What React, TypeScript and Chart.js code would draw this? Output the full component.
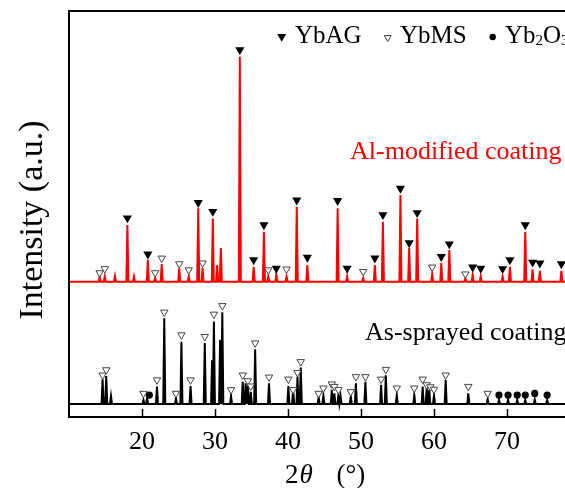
import React, { useEffect, useRef } from 'react';
import { Chart, registerables } from 'chart.js';
Chart.register(...registerables);

const X_MIN = 10;
const X_MAX = 80;
const Y_MIN = 0;
const Y_MAX = 100;
const xTickValues = [20, 30, 40, 50, 60, 70];

// Al-modified coating (red) pattern
const redBase = 33.3;
const redPeakX = [14.2, 14.9, 16.3, 18.0, 18.9, 20.8, 21.8, 22.7, 25.1, 26.4, 27.7, 28.3, 29.7, 30.3, 30.8, 33.4, 35.3, 36.7, 37.3, 38.4, 39.8, 41.2, 42.65, 46.8, 48.1, 50.3, 51.9, 53.0, 55.4, 56.6, 57.7, 59.75, 61.0, 62.1, 64.3, 65.3, 66.4, 69.4, 70.4, 72.5, 73.5, 74.5, 77.45];
const redPeakTop = [34.6, 34.6, 34.7, 47.3, 34.6, 38.7, 34.2, 37.7, 36.6, 34.7, 51.4, 36.7, 48.9, 37.4, 41.6, 88.7, 37.0, 45.6, 34.6, 35.2, 34.6, 51.8, 37.4, 51.4, 34.6, 34.2, 37.4, 48.1, 54.7, 41.6, 48.9, 35.2, 37.9, 41.1, 34.2, 35.0, 34.7, 34.6, 37.0, 45.6, 36.4, 36.0, 36.0];

// As-sprayed coating (black) pattern
const blackBase = 3.2;
const blackPeakX = [14.6, 15.1, 15.75, 20.2, 20.7, 22.05, 23.05, 24.65, 25.4, 26.65, 28.6, 29.6, 29.85, 30.7, 31.0, 32.2, 33.8, 34.2, 34.5, 34.9, 35.5, 37.4, 40.05, 40.7, 41.3, 41.75, 44.2, 44.85, 46.0, 46.35, 46.9, 47.2, 48.6, 49.3, 50.6, 52.75, 53.4, 54.9, 57.3, 58.45, 59.0, 59.35, 60.0, 61.6, 64.7, 67.35, 68.9, 70.15, 71.4, 72.5, 73.8, 75.5];
const blackPeakTop = [9.3, 10.1, 5.2, 4.2, 4.7, 7.5, 24.3, 4.6, 18.5, 7.6, 18.2, 14.0, 23.5, 19.0, 25.8, 5.2, 8.7, 8.3, 7.6, 6.2, 16.7, 8.3, 7.6, 6.7, 9.9, 12.2, 4.9, 5.4, 6.7, 5.8, 5.4, 5.2, 5.0, 8.3, 8.7, 7.9, 10.3, 5.4, 5.4, 7.5, 7.1, 6.7, 5.4, 9.1, 5.8, 4.4, 4.2, 4.2, 4.2, 4.2, 4.3, 4.2];

// Phase markers
const ybagX = [18.0, 20.8, 27.7, 29.7, 33.4, 35.3, 36.7, 38.4, 41.2, 42.65, 46.8, 48.1, 51.9, 53.0, 55.4, 56.6, 57.7, 61.0, 62.1, 65.3, 66.4, 69.4, 70.4, 72.5, 73.5, 74.5, 77.45];
const ybagY = [49.0, 40.1, 52.8, 50.6, 90.4, 38.7, 47.3, 36.6, 53.4, 39.3, 53.3, 36.6, 39.1, 49.8, 56.3, 42.9, 50.3, 39.5, 42.6, 36.9, 36.6, 36.5, 38.7, 47.3, 38.1, 37.9, 37.7];

const ybmsRedX = [14.2, 14.9, 21.8, 22.7, 25.1, 26.4, 28.3, 37.3, 39.8, 50.3, 59.75, 64.3];
const ybmsRedY = [35.5, 36.5, 35.5, 39.1, 37.7, 36.2, 37.9, 36.2, 36.4, 35.8, 36.9, 35.2];

const ybmsBlackX = [14.6, 15.1, 20.2, 22.05, 23.05, 24.65, 25.4, 26.65, 28.6, 29.85, 31.0, 32.2, 33.8, 34.5, 34.9, 35.5, 37.4, 40.05, 40.7, 41.3, 41.75, 44.2, 44.85, 46.0, 46.35, 46.9, 48.6, 49.3, 50.6, 52.75, 53.4, 54.9, 57.3, 58.45, 59.0, 59.5, 60.0, 61.6, 64.7, 67.35];
const ybmsBlackY = [10.3, 11.6, 5.8, 9.1, 25.8, 5.8, 20.2, 9.1, 19.8, 25.3, 27.4, 6.7, 10.3, 8.9, 7.6, 18.2, 9.8, 9.3, 6.7, 10.9, 13.6, 5.8, 7.1, 8.1, 7.5, 6.7, 6.2, 9.9, 9.9, 9.3, 11.7, 7.1, 7.1, 9.3, 7.9, 7.4, 6.8, 10.3, 7.5, 5.8];

const yb2o3X = [21.0, 68.9, 70.15, 71.4, 72.5, 73.8, 75.5];
const yb2o3Y = [5.4, 5.4, 5.4, 5.4, 5.4, 5.8, 5.4];

const legendLabels = ['YbAG', 'YbMS', 'Yb', '2', 'O', '3'];
const redLabel = 'Al-modified coating';
const blackLabel = 'As-sprayed coating';
const yTitle = 'Intensity (a.u.)';

const SERIF = '"Liberation Serif", "Times New Roman", serif';

function buildTrace(base: number, xs: number[], tops: number[], hw = 0.14) {
  const pts: { x: number; y: number }[] = [{ x: X_MIN, y: base }];
  xs.forEach((x, i) => {
    pts.push({ x: x - hw, y: base }, { x, y: tops[i] }, { x: x + hw, y: base });
  });
  pts.push({ x: X_MAX, y: base });
  return pts;
}

function zip(xs: number[], ys: number[]) {
  return xs.map((x, i) => ({ x, y: ys[i] }));
}

function tri(ctx: CanvasRenderingContext2D, x: number, y: number, r: number, filled: boolean) {
  ctx.beginPath();
  ctx.moveTo(x - r * 0.866, y - r * 0.5);
  ctx.lineTo(x + r * 0.866, y - r * 0.5);
  ctx.lineTo(x, y + r);
  ctx.closePath();
  if (filled) {
    ctx.fillStyle = '#000';
    ctx.fill();
  } else {
    ctx.fillStyle = '#fff';
    ctx.fill();
    ctx.strokeStyle = '#444';
    ctx.lineWidth = 1;
    ctx.stroke();
  }
}

const decorPlugin = {
  id: 'decor',
  afterDraw(chart: any) {
    const { ctx, chartArea, scales } = chart;
    const xs = scales.x;
    ctx.save();
    // frame
    ctx.strokeStyle = '#000';
    ctx.lineWidth = 2;
    ctx.strokeRect(chartArea.left, chartArea.top, chartArea.right - chartArea.left, chartArea.bottom - chartArea.top);
    // inward ticks
    ctx.lineWidth = 1.5;
    xTickValues.forEach((v) => {
      const px = Math.round(xs.getPixelForValue(v)) + 0.5;
      ctx.beginPath();
      ctx.moveTo(px, chartArea.bottom);
      ctx.lineTo(px, chartArea.bottom - 8);
      ctx.stroke();
    });

    // legend
    ctx.textBaseline = 'alphabetic';
    ctx.textAlign = 'left';
    ctx.font = `25px ${SERIF}`;
    tri(ctx, 281.7, 36.5, 5.2, true);
    ctx.fillStyle = '#000';
    ctx.fillText(legendLabels[0], 295, 43.3);
    tri(ctx, 387.7, 37.5, 4, false);
    ctx.fillStyle = '#000';
    ctx.font = `25px ${SERIF}`;
    ctx.fillText(legendLabels[1], 400, 43.3);
    ctx.beginPath();
    ctx.arc(492.7, 37, 3.2, 0, Math.PI * 2);
    ctx.fill();
    let lx = 505;
    ctx.fillText(legendLabels[2], lx, 43.3);
    lx += ctx.measureText(legendLabels[2]).width;
    ctx.font = `15px ${SERIF}`;
    ctx.fillText(legendLabels[3], lx, 44.5);
    lx += ctx.measureText(legendLabels[3]).width;
    ctx.font = `25px ${SERIF}`;
    ctx.fillText(legendLabels[4], lx, 43.3);
    lx += ctx.measureText(legendLabels[4]).width;
    ctx.font = `15px ${SERIF}`;
    ctx.fillText(legendLabels[5], lx, 44.5);

    // series labels
    ctx.font = `26px ${SERIF}`;
    ctx.fillStyle = '#ff0000';
    ctx.fillText(redLabel, 350, 159);
    ctx.fillStyle = '#000';
    ctx.fillText(blackLabel, 365, 340);

    // x title: 2θ (°)
    ctx.font = `27px ${SERIF}`;
    let tx = 285;
    ctx.fillText('2', tx, 483);
    tx += ctx.measureText('2').width + 1;
    ctx.font = `italic 27px ${SERIF}`;
    ctx.fillText('θ', tx, 483);
    ctx.font = `27px ${SERIF}`;
    ctx.fillText('(°)', 336.5, 483);

    // y title
    ctx.save();
    ctx.translate(41.5, 220);
    ctx.rotate(-Math.PI / 2);
    ctx.textAlign = 'center';
    ctx.font = `34px ${SERIF}`;
    ctx.fillText(yTitle, 0, 0);
    ctx.restore();

    ctx.restore();
  },
};

export default function App() {
  const ref = useRef<HTMLCanvasElement>(null);
  useEffect(() => {
    if (!ref.current) return;
    const chart = new Chart(ref.current, {
      type: 'line',
      data: {
        datasets: [
          {
            label: 'YbAG',
            data: zip(ybagX, ybagY),
            showLine: false,
            pointStyle: 'triangle',
            rotation: 180,
            pointRadius: 5.3,
            backgroundColor: '#000',
            borderColor: '#000',
            borderWidth: 0,
          } as any,
          {
            label: 'YbMS red',
            data: zip(ybmsRedX, ybmsRedY),
            showLine: false,
            pointStyle: 'triangle',
            rotation: 180,
            pointRadius: 4.3,
            backgroundColor: '#fff',
            borderColor: '#444',
            borderWidth: 1,
          },
          {
            label: 'YbMS black',
            data: zip(ybmsBlackX, ybmsBlackY),
            showLine: false,
            pointStyle: 'triangle',
            rotation: 180,
            pointRadius: 4.3,
            backgroundColor: '#fff',
            borderColor: '#444',
            borderWidth: 1,
          },
          {
            label: 'Yb2O3',
            data: zip(yb2o3X, yb2o3Y),
            showLine: false,
            pointStyle: 'circle',
            pointRadius: 3.6,
            backgroundColor: '#000',
            borderColor: '#000',
            borderWidth: 0,
          },
          {
            label: redLabel,
            data: buildTrace(redBase, redPeakX, redPeakTop),
            borderColor: '#ff0000',
            borderWidth: 2,
            pointRadius: 0,
            tension: 0,
            fill: false,
          },
          {
            label: blackLabel,
            data: buildTrace(blackBase, blackPeakX, blackPeakTop),
            borderColor: '#000',
            borderWidth: 2,
            pointRadius: 0,
            tension: 0,
            fill: false,
          },
        ],
      },
      options: {
        responsive: false,
        animation: false,
        events: [],
        layout: { padding: { left: 69, top: 11, right: 20, bottom: 0 } },
        plugins: { legend: { display: false }, tooltip: { enabled: false }, title: { display: false } },
        scales: {
          x: {
            type: 'linear',
            min: X_MIN,
            max: X_MAX,
            grid: { display: false },
            border: { display: false },
            afterFit: (s: any) => {
              s.height = 71;
            },
            ticks: {
              stepSize: 10,
              autoSkip: false,
              maxRotation: 0,
              padding: 2,
              color: '#000',
              font: { family: SERIF, size: 26 },
              callback: (v: any) => (xTickValues.includes(Number(v)) ? String(v) : ''),
            },
          },
          y: {
            type: 'linear',
            display: false,
            min: Y_MIN,
            max: Y_MAX,
          },
        },
      },
      plugins: [decorPlugin],
    });
    return () => chart.destroy();
  }, []);
  return (
    <div style={{ position: 'fixed', left: 0, top: 0, width: 565, height: 488, overflow: 'hidden', background: '#fff' }}>
      <canvas ref={ref} width={600} height={488} style={{ display: 'block' }} />
    </div>
  );
}
